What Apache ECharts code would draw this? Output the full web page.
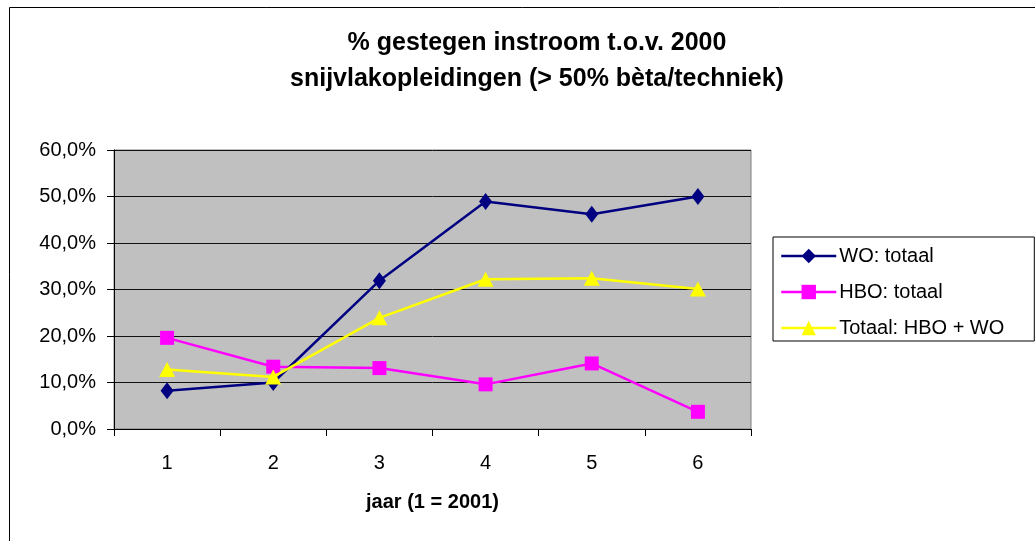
<!DOCTYPE html>
<html>
<head>
<meta charset="utf-8">
<script src="https://cdn.jsdelivr.net/npm/echarts@6/dist/echarts.min.js"></script>
<style>
  html, body { margin: 0; padding: 0; background: #fff; }
  #chart { width: 1035px; height: 541px; }
</style>
</head>
<body>
<div id="chart"></div>
<script>
// jaar 1..6 (1 = 2001)
var categories = ['1', '2', '3', '4', '5', '6'];
// % gestegen instroom t.o.v. 2000
var woTotaal = [8.2, 10.0, 31.9, 48.9, 46.2, 50.0];
var hboTotaal = [19.6, 13.4, 13.1, 9.6, 14.1, 3.7];
var totaalHboWo = [12.8, 11.2, 23.9, 32.2, 32.4, 30.1];
var yTicks = [0, 10, 20, 30, 40, 50, 60];

var chart = echarts.init(document.getElementById('chart'));
var font = '"Liberation Sans", Arial, sans-serif';

var option = {
  animation: false,
  backgroundColor: '#fff',
  textStyle: { fontFamily: font },
  graphic: [{
    type: 'rect',
    shape: { x: 9.5, y: 7.5, width: 1100, height: 600 },
    style: { fill: 'none', stroke: '#000', lineWidth: 1 },
    silent: true,
    z: -1
  }],
  title: {
    text: '% gestegen instroom t.o.v. 2000\nsnijvlakopleidingen (> 50% bèta/techniek)',
    left: 532,
    textAlign: 'center',
    top: 20,
    textStyle: {
      fontFamily: font,
      fontSize: 25,
      fontWeight: 'bold',
      color: '#000',
      lineHeight: 36
    }
  },
  legend: {
    orient: 'vertical',
    left: 773,
    top: 237,
    padding: [9, 30, 3, 7],
    itemWidth: 55,
    itemHeight: 18,
    itemGap: 16,
    borderColor: '#000',
    borderWidth: 1,
    backgroundColor: '#fff',
    lineStyle: { width: 2.5 },
    textStyle: { fontFamily: font, fontSize: 20, color: '#000', padding: [0, 0, 0, -2] },
    data: ['WO: totaal', 'HBO: totaal', 'Totaal: HBO + WO']
  },
  grid: {
    left: 114,
    right: 284,
    top: 150,
    bottom: 112,
    show: true,
    backgroundColor: '#c0c0c0',
    borderColor: '#808080',
    borderWidth: 1
  },
  xAxis: {
    type: 'category',
    data: categories,
    boundaryGap: true,
    name: 'jaar (1 = 2001)',
    nameLocation: 'middle',
    nameGap: 63,
    nameTextStyle: { fontFamily: font, fontSize: 20, fontWeight: 'bold', color: '#000' },
    axisLine: { lineStyle: { color: '#000', width: 1 } },
    axisTick: { show: true, interval: 0, length: 7, inside: false, lineStyle: { color: '#000' } },
    axisLabel: { fontFamily: font, fontSize: 20, color: '#000', margin: 24 },
    splitLine: { show: false }
  },
  yAxis: {
    type: 'value',
    min: yTicks[0],
    max: yTicks[yTicks.length - 1],
    interval: 10,
    axisLine: { show: true, lineStyle: { color: '#000', width: 1 } },
    axisTick: { show: true, length: 7, lineStyle: { color: '#000' } },
    axisLabel: {
      fontFamily: font,
      fontSize: 20,
      color: '#000',
      margin: 18,
      formatter: function (v) { return v.toFixed(1).replace('.', ',') + '%'; }
    },
    splitLine: { show: true, lineStyle: { color: '#111', width: 1 } }
  },
  series: [
    {
      name: 'WO: totaal',
      type: 'line',
      data: woTotaal,
      symbol: 'diamond',
      symbolSize: [13, 17],
      lineStyle: { color: '#000080', width: 2.5 },
      itemStyle: { color: '#000080' },
      z: 3
    },
    {
      name: 'HBO: totaal',
      type: 'line',
      data: hboTotaal,
      symbol: 'rect',
      symbolSize: 14,
      lineStyle: { color: '#ff00ff', width: 2.5 },
      itemStyle: { color: '#ff00ff' },
      z: 2
    },
    {
      name: 'Totaal: HBO + WO',
      type: 'line',
      data: totaalHboWo,
      symbol: 'triangle',
      symbolSize: [16, 15],
      lineStyle: { color: '#ffff00', width: 2.5 },
      itemStyle: { color: '#ffff00' },
      z: 4
    }
  ]
};

chart.setOption(option);
</script>
</body>
</html>
